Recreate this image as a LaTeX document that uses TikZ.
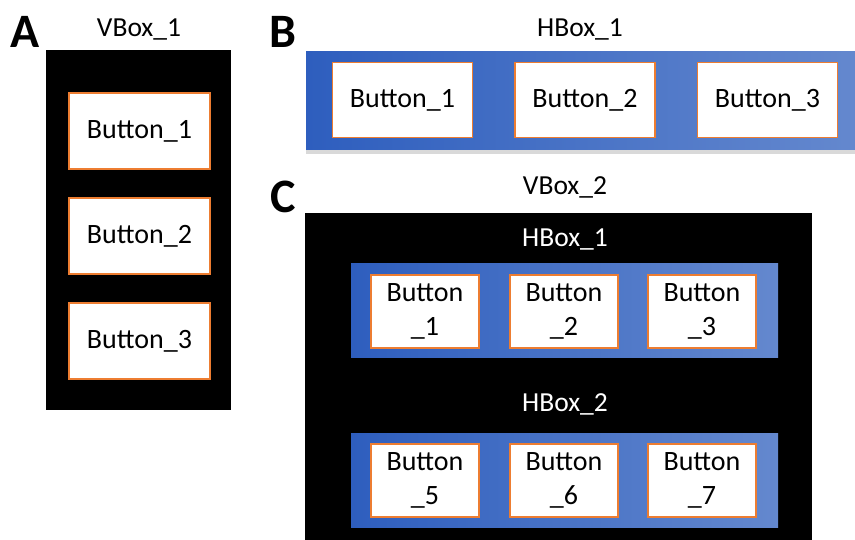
\documentclass[tikz,border=0pt]{standalone}
\usepackage{fontspec}
\setmainfont{Carlito}
\usetikzlibrary{shadows}
\definecolor{btnColor}{HTML}{ED7D31}
\definecolor{boxLeft}{HTML}{2E5EBE}
\definecolor{boxRight}{HTML}{6488CE}
\tikzset{
	vbox/.style={fill=black, draw=none, inner sep=0, outer sep=0},
	hbox/.style={left color=boxLeft, right color=boxRight, draw=none, inner sep=0, outer sep=0},
	btn/.style={fill=white, draw=btnColor, line width=1.6pt, inner sep=0, outer sep=0, align=center,
		font=\fontsize{28}{34}\selectfont},
	boxlab/.style={font=\fontsize{27.5}{30}\selectfont},
	panel/.style={font=\fontsize{48}{50}\selectfont\bfseries}
}
\begin{document}
\begin{tikzpicture}[x=1pt, y=-1pt]
				\useasboundingbox (0, 0) rectangle (855, 540);
				% A
				\node[panel] (pA) at (25, 32) {A};
				\node[boxlab] (lv1) at (139, 29) {VBox\_1};
				\node[vbox, minimum width=185, minimum height=360] (v1) at (138.5, 230) {};
				\foreach \i/\y in {1/131, 2/236, 3/341}
					\node[btn, minimum width=141, minimum height=76] (v1b\i) at (139.5, \y) {Button\_\i};
				
				% B
				\node[panel] (pB) at (283, 32) {B};
				\node[boxlab] (lh1) at (580, 29) {HBox\_1};
				\node[hbox, drop shadow={opacity=0.3, shadow xshift=0pt, shadow yshift=-4pt}, minimum width=550, minimum height=98] (h1) at (581, 101) {};
				\foreach \i/\x in {1/402.5, 2/585, 3/767.5}
					\node[btn, minimum width=140, minimum height=75] (h1b\i) at (\x, 100) {Button\_\i};
				
				% C
				\node[panel] (pC) at (283, 197) {C};
				\node[boxlab] (lv2) at (565, 187) {VBox\_2};
				\node[vbox, minimum width=507, minimum height=328] (v2) at (558.5, 377) {};
				\node[boxlab, text=white] (lc1) at (565, 239) {HBox\_1};
				\node[hbox, minimum width=427, minimum height=94] (c1) at (564.5, 311) {};
				\foreach \i/\x in {1/425, 2/564, 3/702}
					\node[btn, minimum width=108, minimum height=73] (c1b\i) at (\x, 311.5) {Button\\\_\i};
				\node[boxlab, text=white] (lc2) at (565, 404) {HBox\_2};
				\node[hbox, minimum width=427, minimum height=94] (c2) at (564.5, 480) {};
				\foreach \i/\x in {5/425, 6/564, 7/702}
					\node[btn, minimum width=108, minimum height=73] (c2b\i) at (\x, 480.5) {Button\\\_\i};
\end{tikzpicture}
\end{document}
